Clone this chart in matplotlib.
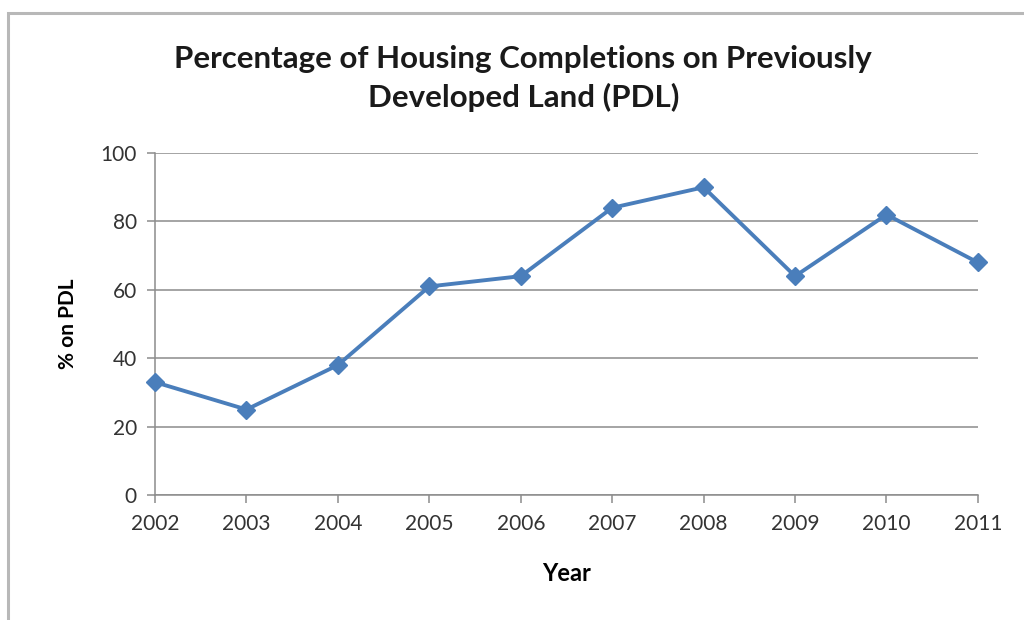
import matplotlib
matplotlib.use("Agg")
import matplotlib.pyplot as plt
from matplotlib.patches import Rectangle

years = ["2002", "2003", "2004", "2005", "2006", "2007", "2008", "2009", "2010", "2011"]
pct_pdl = [33, 25, 38, 61, 64, 84, 90, 64, 82, 68]
y_ticks = [0, 20, 40, 60, 80, 100]

plt.rcParams['font.family'] = ['Lato', 'DejaVu Sans']

fig = plt.figure(figsize=(10.24, 6.2), dpi=100)
fig.patch.set_facecolor('white')

# chart frame
fig.patches.append(Rectangle((0.008, -0.02), 1.02, 0.999, transform=fig.transFigure,
                             fill=False, edgecolor='#b8b8b8', linewidth=2.2))

ax = fig.add_axes([0.1514, 0.2016, 0.8036, 0.5515])
x = list(range(len(years)))
ax.plot(x, pct_pdl, color='#4a7ebb', linewidth=2.8, marker='D', markersize=9,
        markerfacecolor='#4a7ebb', markeredgecolor='#4a7ebb', zorder=3,
        clip_on=False)

ax.set_xlim(0, len(years) - 1)
ax.set_ylim(0, 100)
ax.set_xticks(x)
ax.set_xticklabels(years)
ax.set_yticks(y_ticks)
ax.yaxis.grid(True, color='#8c8c8c', linewidth=1.1)
ax.set_axisbelow(True)

for side in ['top', 'right']:
    ax.spines[side].set_visible(False)
for side in ['left', 'bottom']:
    ax.spines[side].set_color('#8c8c8c')
    ax.spines[side].set_linewidth(1.1)

ax.tick_params(axis='both', colors='#8c8c8c', length=6, width=1.1,
               labelsize=15, labelcolor='#333333')
ax.tick_params(axis='x', pad=8)
ax.tick_params(axis='y', pad=7)

ax.set_xlabel('Year', fontsize=17, fontweight='bold', labelpad=20)
ax.set_ylabel('% on PDL', fontsize=15, fontweight='bold', labelpad=16)

fig.text(0.511, 0.873, 'Percentage of Housing Completions on Previously\nDeveloped Land (PDL)',
         ha='center', va='center', fontsize=22.5, fontweight='bold', linespacing=1.4,
         color='#1a1a1a')

fig.savefig('out.png', dpi=100, facecolor='white')
